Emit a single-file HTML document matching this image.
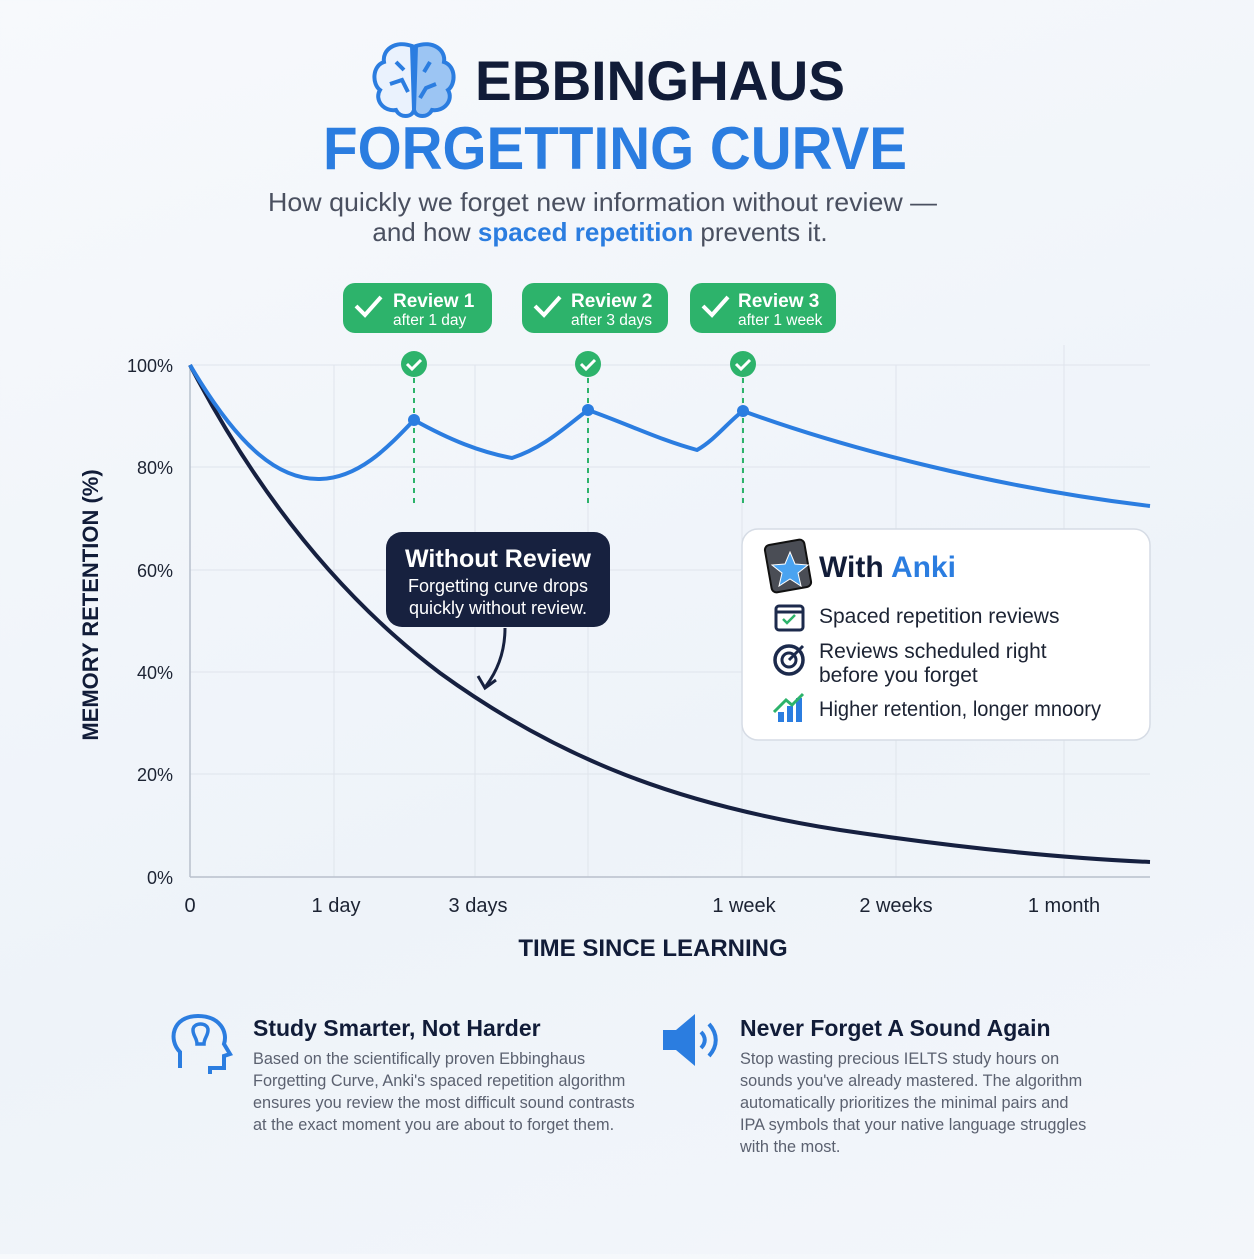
<!DOCTYPE html>
<html><head><meta charset="utf-8"><style>
html,body{margin:0;padding:0;}
body{width:1254px;height:1254px;background:linear-gradient(160deg,#f7f9fc,#eef3f9 60%,#f3f6fa);font-family:"Liberation Sans",sans-serif;overflow:hidden;}
</style></head><body>
<svg width="1254" height="1254" viewBox="0 0 1254 1254" xmlns="http://www.w3.org/2000/svg" font-family="Liberation Sans, sans-serif">
<g fill="none" stroke="#2b7de0" stroke-width="4">
<path d="M412,46 C395,40 382,50 384,62 C372,66 372,84 380,90 C374,100 384,112 396,110 C400,118 412,118 414,110 Z" fill="#eaf2fd"/>
<path d="M416,46 C433,40 446,50 444,62 C456,66 456,84 448,90 C454,100 444,112 432,110 C428,118 416,118 414,110 Z" fill="#9cc5f3"/>
<path d="M396,62 L404,70 M390,84 L402,80 L408,92 M430,62 L424,72 M436,84 L426,88 L420,98"/>
</g>
<text x="475" y="100" font-size="56" font-weight="bold" fill="#111c38" textLength="370" lengthAdjust="spacingAndGlyphs">EBBINGHAUS</text>
<text x="323" y="169" font-size="60" font-weight="bold" fill="#2b7de0" textLength="584" lengthAdjust="spacingAndGlyphs">FORGETTING CURVE</text>
<text x="268" y="211" font-size="26" fill="#4a5060" textLength="669" lengthAdjust="spacingAndGlyphs">How quickly we forget new information without review —</text>
<text x="600" y="241" font-size="26" fill="#4a5060" text-anchor="middle">and how <tspan fill="#2b7de0" font-weight="bold">spaced repetition</tspan> prevents it.</text>

<g stroke="#dfe4ec" stroke-width="1">
<line x1="190" y1="365" x2="1150" y2="365"/><line x1="190" y1="467" x2="1150" y2="467"/>
<line x1="190" y1="570" x2="1150" y2="570"/><line x1="190" y1="672" x2="1150" y2="672"/>
<line x1="190" y1="774" x2="1150" y2="774"/>
<line x1="334" y1="365" x2="334" y2="877"/><line x1="475" y1="365" x2="475" y2="877"/>
<line x1="588" y1="365" x2="588" y2="877"/><line x1="742" y1="365" x2="742" y2="877"/>
<line x1="896" y1="365" x2="896" y2="877"/><line x1="1064" y1="345" x2="1064" y2="877"/>
</g>
<line x1="190" y1="365" x2="190" y2="877" stroke="#b8c0cc" stroke-width="1.5"/>
<line x1="190" y1="877" x2="1150" y2="877" stroke="#b8c0cc" stroke-width="1.5"/>
<g font-size="18" fill="#1c2333" text-anchor="end">
<text x="173" y="372">100%</text><text x="173" y="474">80%</text><text x="173" y="577">60%</text>
<text x="173" y="679">40%</text><text x="173" y="781">20%</text><text x="173" y="884">0%</text>
</g>
<g font-size="20" fill="#1c2333" text-anchor="middle">
<text x="190" y="912">0</text><text x="336" y="912">1 day</text><text x="478" y="912">3 days</text>
<text x="744" y="912">1 week</text><text x="896" y="912">2 weeks</text><text x="1064" y="912">1 month</text>
</g>
<text x="653" y="956" font-size="24" font-weight="bold" fill="#111c38" text-anchor="middle">TIME SINCE LEARNING</text>
<text transform="translate(98,605) rotate(-90)" font-size="22" font-weight="bold" fill="#111c38" text-anchor="middle">MEMORY RETENTION (%)</text>

<g stroke="#2db36b" stroke-width="2" stroke-dasharray="5,5">
<line x1="414" y1="378" x2="414" y2="505"/><line x1="588" y1="378" x2="588" y2="505"/><line x1="743" y1="378" x2="743" y2="505"/>
</g>
<path fill="none" stroke="#162040" stroke-width="4" stroke-linejoin="round" d="M190,365 C250,480 330,590 440,673 C560,760 680,805 840,830 C960,848 1060,858 1150,862"/>
<path fill="none" stroke="#2b7de0" stroke-width="4" stroke-linejoin="round" d="M190,365 C240,450 280,480 320,479 C360,478 390,445 414,420 C450,440 480,452 512,458 C545,447 565,427 588,410 C630,425 660,440 697,450 C715,440 730,420 743,411 C850,450 1000,488 1150,506"/>
<g fill="#2b7de0"><circle cx="414" cy="420" r="6"/><circle cx="588" cy="410" r="6"/><circle cx="743" cy="411" r="6"/></g>
<g>
<circle cx="414" cy="364" r="13" fill="#2db36b"/><circle cx="588" cy="364" r="13" fill="#2db36b"/><circle cx="743" cy="364" r="13" fill="#2db36b"/>
<g fill="none" stroke="#fff" stroke-width="3"><path d="M407,364 l5,5 l9,-9"/><path d="M581,364 l5,5 l9,-9"/><path d="M736,364 l5,5 l9,-9"/></g>
</g>
<g>
<rect x="343" y="283" width="149" height="50" rx="12" fill="#2db36b"/>
<rect x="522" y="283" width="146" height="50" rx="12" fill="#2db36b"/>
<rect x="690" y="283" width="146" height="50" rx="12" fill="#2db36b"/>
<g fill="none" stroke="#fff" stroke-width="4"><path d="M356,306 l9,9 l16,-18"/><path d="M535,306 l9,9 l16,-18"/><path d="M703,306 l9,9 l16,-18"/></g>
<g fill="#fff"><text x="393" y="307" font-size="19" font-weight="bold">Review 1</text><text x="393" y="325" font-size="15.5">after 1 day</text>
<text x="571" y="307" font-size="19" font-weight="bold">Review 2</text><text x="571" y="325" font-size="15.5">after 3 days</text>
<text x="738" y="307" font-size="19" font-weight="bold">Review 3</text><text x="738" y="325" font-size="15.5">after 1 week</text></g>
</g>
<rect x="386" y="532" width="224" height="95" rx="16" fill="#17213f"/>
<text x="498" y="567" font-size="25" font-weight="bold" fill="#fff" text-anchor="middle">Without Review</text>
<text x="498" y="592" font-size="18" fill="#fff" text-anchor="middle">Forgetting curve drops</text>
<text x="498" y="614" font-size="18" fill="#fff" text-anchor="middle">quickly without review.</text>
<path d="M505,628 C505,650 498,670 486,686" fill="none" stroke="#17213f" stroke-width="3"/>
<path d="M478,676 L485,688 L496,680" fill="none" stroke="#17213f" stroke-width="3"/>
<rect x="742" y="529" width="408" height="211" rx="16" fill="#fff" stroke="#d6dce5" stroke-width="1.5"/>
<rect x="768" y="542" width="40" height="48" rx="5" fill="#4a4d55" stroke="#111" stroke-width="2" transform="rotate(-10 788 566)"/>
<polygon points="790,552 795,564 808,565 798,573 801,586 790,579 779,586 782,573 772,565 785,564" fill="#4aa3f0" stroke="#fff" stroke-width="1"/>
<text x="819" y="577" font-size="30" font-weight="bold" fill="#111c38">With <tspan fill="#2b7de0">Anki</tspan></text>
<rect x="776" y="606" width="27" height="24" rx="3" fill="none" stroke="#1c2a4c" stroke-width="3"/>
<line x1="776" y1="612" x2="803" y2="612" stroke="#1c2a4c" stroke-width="3"/>
<path d="M783,619 l4,4 l8,-8" fill="none" stroke="#2db36b" stroke-width="2.5"/>
<text x="819" y="623" font-size="21" fill="#1c2333">Spaced repetition reviews</text>
<circle cx="789" cy="660" r="14" fill="none" stroke="#1c2a4c" stroke-width="3.5"/>
<circle cx="789" cy="660" r="7" fill="none" stroke="#1c2a4c" stroke-width="3"/>
<line x1="789" y1="660" x2="803" y2="646" stroke="#1c2a4c" stroke-width="3"/>
<text x="819" y="658" font-size="21" fill="#1c2333">Reviews scheduled right</text>
<text x="819" y="682" font-size="21" fill="#1c2333">before you forget</text>
<g fill="#2b7de0"><rect x="778" y="712" width="6" height="10"/><rect x="787" y="706" width="6" height="16"/><rect x="796" y="698" width="6" height="24"/></g>
<path d="M774,712 L786,700 L792,705 L803,694" fill="none" stroke="#2db36b" stroke-width="3"/>
<text x="819" y="716" font-size="21" fill="#1c2333" textLength="282" lengthAdjust="spacingAndGlyphs">Higher retention, longer mnoory</text>

<path d="M180,1068 L180,1052 C168,1040 172,1016 198,1016 C220,1016 228,1032 224,1044 L230,1054 L224,1056 L224,1068 L210,1068 L210,1074" fill="none" stroke="#2b7de0" stroke-width="4"/>
<path d="M193,1030 C193,1022 208,1022 208,1030 C208,1036 204,1038 204,1044 L197,1044 C197,1038 193,1036 193,1030Z" fill="none" stroke="#2b7de0" stroke-width="3.5"/>
<text x="253" y="1036" font-size="23" font-weight="bold" fill="#111c38">Study Smarter, Not Harder</text>
<g font-size="16.3" fill="#5b6170">
<text x="253" y="1064">Based on the scientifically proven Ebbinghaus</text>
<text x="253" y="1086">Forgetting Curve, Anki's spaced repetition algorithm</text>
<text x="253" y="1108">ensures you review the most difficult sound contrasts</text>
<text x="253" y="1130">at the exact moment you are about to forget them.</text>
</g>
<path d="M663,1030 L676,1030 L695,1014 L695,1066 L676,1050 L663,1050 Z" fill="#2b7de0"/>
<path d="M701,1032 C706,1037 706,1043 701,1048" fill="none" stroke="#2b7de0" stroke-width="4"/>
<path d="M709,1024 C718,1034 718,1046 709,1056" fill="none" stroke="#2b7de0" stroke-width="4"/>
<text x="740" y="1036" font-size="23" font-weight="bold" fill="#111c38">Never Forget A Sound Again</text>
<g font-size="16.3" fill="#5b6170">
<text x="740" y="1064">Stop wasting precious IELTS study hours on</text>
<text x="740" y="1086">sounds you've already mastered. The algorithm</text>
<text x="740" y="1108">automatically prioritizes the minimal pairs and</text>
<text x="740" y="1130">IPA symbols that your native language struggles</text>
<text x="740" y="1152">with the most.</text>
</g>
</svg>
</body></html>
